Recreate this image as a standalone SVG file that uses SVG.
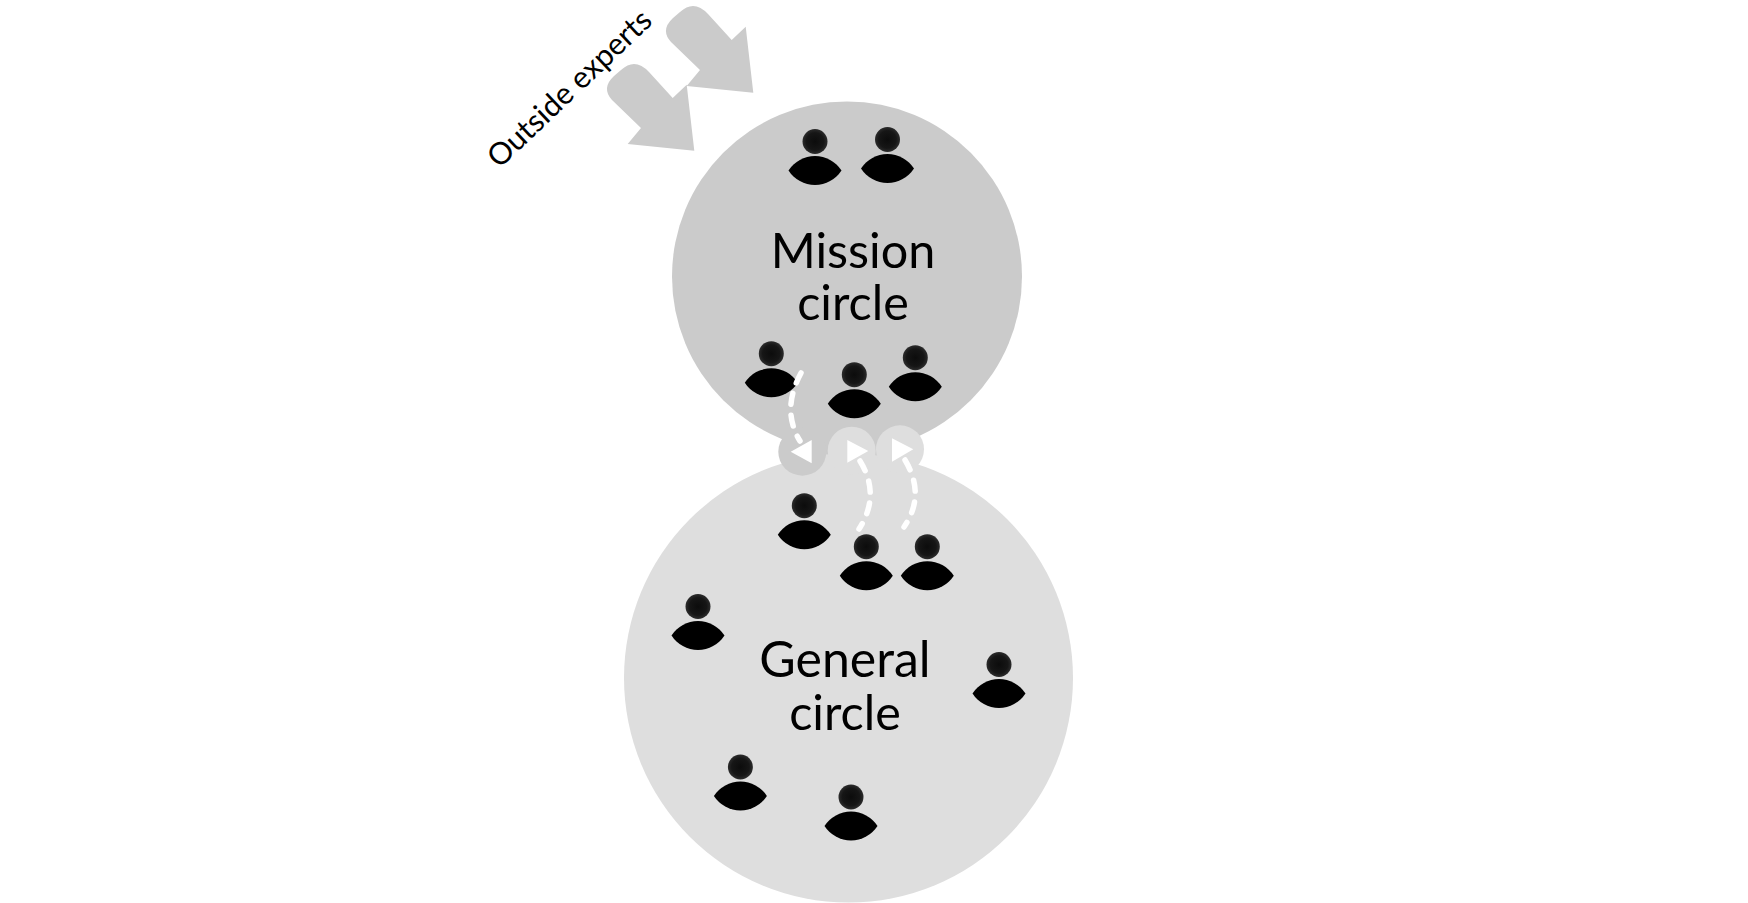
<svg xmlns="http://www.w3.org/2000/svg" width="1748" height="903" viewBox="0 0 1748 903">
<style>
.t{font-family:Lato,"Liberation Sans",sans-serif;font-size:48.5px;fill:#000;text-anchor:middle}
.m{fill:#cbcbcb}.g{fill:#dedede}
.d{fill:none;stroke:#fff;stroke-width:5.5;stroke-linecap:round;stroke-dasharray:11 11}
.h{fill:url(#hg)}
.w{fill:#fff}
</style>
<defs>
<radialGradient id="hg"><stop offset="0" stop-color="#0c0c0c"/><stop offset="0.7" stop-color="#161616"/><stop offset="1" stop-color="#2c2c2c"/></radialGradient>
<g id="p"><circle class="h" cx="0" cy="0" r="12.5"/><path d="M-26.5 29A31.5 31.5 0 0 1 26.5 29A31.5 31.5 0 0 1 -26.5 29Z"/></g>
<path id="ar" class="m" d="M731.7 40L708 14Q694 -1 680 12L673 18Q660 30 671 42L700 70L686.7 86L753.3 92.7L745.7 26.7Z"/>
</defs>
<rect width="1748" height="903" fill="#fff"/>
<g id="mission"><circle class="m" cx="847" cy="276.5" r="175"/></g>
<path class="m" d="M815 440H885V458H815Z"/>
<g id="general"><circle class="g" cx="848.5" cy="678" r="224.5"/></g>
<g id="ports">
<circle class="m" cx="802.3" cy="451.7" r="24"/>
<circle class="g" cx="851.7" cy="450.7" r="24"/>
<circle class="g" cx="900" cy="449.3" r="24"/>
</g>
<g id="outside-experts"><use href="#ar"/><use href="#ar" transform="translate(-59 58)"/>
<text class="t" transform="translate(576.5 96) rotate(-43.5)" style="font-size:30.5px">Outside experts</text></g>
<g id="label-mission"><text class="t" x="853" y="268">Mission</text><text class="t" x="853" y="320">circle</text></g>
<g id="label-general"><text class="t" x="845" y="677" style="font-size:50px">General</text><text class="t" x="845" y="730">circle</text></g>
<g id="people">
<use id="p1" href="#p" x="815" y="141.5"/>
<use id="p2" href="#p" x="887.5" y="139.5"/>
<use id="p3" href="#p" x="771.3" y="353.7"/>
<use id="p4" href="#p" x="854.3" y="374.7"/>
<use id="p5" href="#p" x="915.3" y="357.7"/>
<use id="p6" href="#p" x="804.3" y="505.7"/>
<use id="p7" href="#p" x="866.3" y="546.7"/>
<use id="p8" href="#p" x="927.3" y="546.7"/>
<use id="p9" href="#p" x="698" y="606.5"/>
<use id="p10" href="#p" x="999" y="664.5"/>
<use id="p11" href="#p" x="740.4" y="767"/>
<use id="p12" href="#p" x="851" y="797"/>
</g>
<g id="connectors">
<path class="d" d="M801 373Q781 410 800 441"/>
<path class="d" d="M860 461Q881 495 859 529"/>
<path class="d" d="M905 460Q926 495 904 527"/>
<path class="w" d="M811.7 440V463.3L790.7 451.7Z"/>
<path class="w" d="M847.3 440V462.7L868.3 451Z"/>
<path class="w" d="M892 438.3V461.7L913.3 449.3Z"/>
</g>
</svg>
